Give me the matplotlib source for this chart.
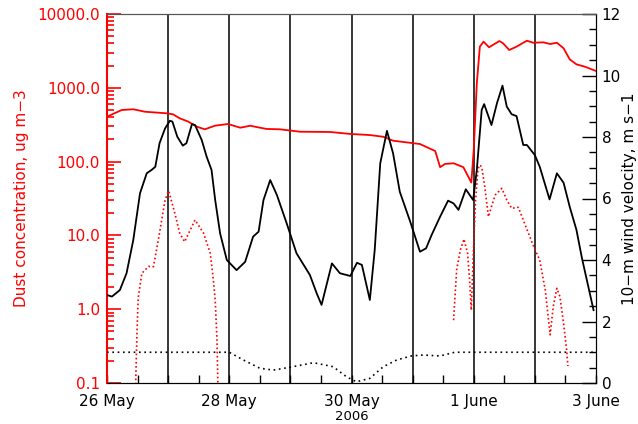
import numpy as np
import matplotlib
matplotlib.use("Agg")
import matplotlib.pyplot as plt
from matplotlib.ticker import FixedLocator, MultipleLocator, LogLocator, NullFormatter

# ---------------- data (time in days since 26 May 2006 00:00) ----------------
dust_t = [0.00, 0.24, 0.43, 0.62, 0.98, 1.08, 1.19, 1.33, 1.47, 1.60, 1.77, 1.98,
          2.18, 2.34, 2.61, 2.83, 3.16, 3.65, 3.98, 4.30, 4.52, 4.68, 5.12, 5.37,
          5.45, 5.53, 5.67, 5.83, 5.96, 6.00, 6.05, 6.10, 6.16, 6.25, 6.42, 6.48,
          6.58, 6.70, 6.87, 6.97, 7.14, 7.25, 7.36, 7.47, 7.57, 7.68, 7.82, 8.00]
dust_c = [406, 500, 512, 474, 451, 437, 386, 348, 297, 274, 307, 323,
          288, 306, 277, 274, 254, 252, 237, 229, 217, 192, 173, 139,
          84, 93, 95, 84, 52, 144, 1150, 3610, 4220, 3540, 4300, 4010,
          3250, 3610, 4350, 4080, 4130, 3920, 4080, 3430, 2430, 2080, 1930, 1690]

dust2_t = [0.46, 0.49, 0.51, 0.57, 0.68, 0.76, 0.84, 0.95, 1.01, 1.11, 1.19, 1.27,
           1.44, 1.58, 1.69, 1.74, 1.77, 1.80, 1.82,
           3.50,
           5.67, 5.69, 5.72, 5.78, 5.84, 5.90, 5.93, 5.96, 5.99, 6.03, 6.07, 6.10,
           6.13, 6.18, 6.24, 6.29, 6.35, 6.46, 6.54, 6.62, 6.73, 6.81, 6.97, 7.08,
           7.17, 7.25, 7.30, 7.36, 7.41, 7.47, 7.52, 7.54]
dust2_c = [0.05, 0.47, 1.41, 3.06, 3.8, 3.77, 8.7, 30.2, 40, 19.9, 10.7, 8.2,
           16.2, 10.7, 5.7, 2.5, 1.33, 0.38, 0.05,
           np.nan,
           0.71, 1.33, 3.4, 6.3, 8.9, 5.7, 2.6, 0.97, 5.0, 30, 80, 90,
           85, 45.7, 17.9, 24.5, 35.2, 43.4, 30.2, 23.3, 24, 16.2, 7.4, 4.6,
           1.82, 0.45, 1.08, 1.92, 1.48, 0.64, 0.28, 0.17]

wind_t = [0.00, 0.08, 0.21, 0.32, 0.43, 0.54, 0.65, 0.73, 0.79, 0.86, 0.95, 1.03,
          1.07, 1.15, 1.24, 1.30, 1.39, 1.44, 1.55, 1.63, 1.71, 1.77, 1.85, 1.96,
          2.12, 2.26, 2.39, 2.48, 2.56, 2.67, 2.78, 2.94, 3.10, 3.32, 3.43, 3.51,
          3.68, 3.81, 3.98, 4.09, 4.17, 4.30, 4.38, 4.47, 4.58, 4.68, 4.79, 4.96,
          5.12, 5.22, 5.31, 5.45, 5.58, 5.67, 5.75, 5.87, 5.99, 6.05, 6.13, 6.17,
          6.29, 6.38, 6.47, 6.54, 6.62, 6.70, 6.81, 6.87, 7.00, 7.08, 7.24, 7.36,
          7.47, 7.57, 7.68, 7.77, 7.85, 7.96]
wind_v = [2.86, 2.81, 3.02, 3.57, 4.65, 6.17, 6.82, 6.93, 7.03, 7.80, 8.28, 8.53,
          8.50, 8.01, 7.72, 7.80, 8.42, 8.39, 7.90, 7.36, 6.93, 5.95, 4.87, 4.00,
          3.67, 3.94, 4.76, 4.92, 5.95, 6.60, 6.11, 5.19, 4.22, 3.51, 2.92, 2.54,
          3.89, 3.57, 3.48, 3.91, 3.84, 2.70, 4.33, 7.14, 8.20, 7.47, 6.22, 5.25,
          4.27, 4.38, 4.81, 5.41, 5.93, 5.84, 5.63, 6.30, 5.95, 6.93, 8.88, 9.07,
          8.39, 9.10, 9.67, 8.99, 8.74, 8.68, 7.74, 7.74, 7.41, 7.03, 5.97, 6.82,
          6.51, 5.73, 4.98, 4.06, 3.35, 2.37]

thresh_t = [0.00, 2.00, 2.23, 2.50, 2.72, 2.99, 3.38, 3.70, 3.92, 4.08, 4.30,
            4.52, 4.74, 4.98, 5.17, 5.45, 5.69, 8.00]
thresh_v = [1.00, 1.00, 0.75, 0.48, 0.42, 0.51, 0.66, 0.53, 0.20, 0.04, 0.15,
            0.53, 0.75, 0.88, 0.91, 0.88, 1.00, 1.00]

day_lines = [1, 2, 3, 4, 5, 6, 7]
xtick_pos = [0, 2, 4, 6, 8]
xtick_labels = ["26 May", "28 May", "30 May", "1 June", "3 June"]
ytick_left = [0.1, 1, 10, 100, 1000, 10000]
ytick_left_labels = ["0.1", "1.0", "10.0", "100.0", "1000.0", "10000.0"]
ytick_right = [0, 2, 4, 6, 8, 10, 12]

# ---------------- figure ----------------
plt.rcParams['font.family'] = ['DejaVu Sans']
fig = plt.figure(figsize=(6.38, 4.24), dpi=100)
ax = fig.add_axes([107/638, 41/424, 489/638, 369/424])
ax2 = ax.twinx()

RED = '#ff0000'
ax.set_yscale('log')
ax.set_ylim(0.1, 10000)
ax.set_xlim(0, 8)

for d in day_lines:
    ax.axvline(d, color='black', lw=1.1, zorder=1)

ax.plot(dust_t, dust_c, color=RED, lw=1.3, zorder=3)
ax.plot(dust2_t, dust2_c, color=RED, lw=1.2, ls=(0, (1, 1.5)), zorder=3)

ax2.set_ylim(0, 12)
ax2.plot(wind_t, wind_v, color='black', lw=1.3, zorder=3)
ax2.plot(thresh_t, thresh_v, color='black', lw=1.2, ls=(0, (1, 2.2)), zorder=3)

# x axis
ax.set_xticks(xtick_pos)
ax.set_xticklabels(xtick_labels, fontsize=11)
ax.xaxis.set_minor_locator(MultipleLocator(0.5))
ax.tick_params(axis='x', which='both', direction='in', length=6, width=1,
               pad=8, top=False)

# left axis
ax.yaxis.set_major_locator(FixedLocator(ytick_left))
ax.set_yticklabels(ytick_left_labels)
ax.yaxis.set_minor_locator(LogLocator(base=10, subs=np.arange(2, 10)))
ax.yaxis.set_minor_formatter(NullFormatter())
ax.tick_params(axis='y', which='major', direction='in', length=10, width=1.2,
               colors=RED, labelsize=11, pad=5)
ax.tick_params(axis='y', which='minor', direction='in', length=5, width=1.2,
               colors=RED)
ax.set_ylabel("Dust concentration, ug m\u22123", color=RED, fontsize=11, labelpad=6)

# right axis
ax2.set_yticks(ytick_right)
ax2.yaxis.set_minor_locator(MultipleLocator(0.5))
ax2.tick_params(axis='y', which='major', direction='in', length=10, width=1,
                labelsize=11, pad=4)
ax2.tick_params(axis='y', which='minor', direction='in', length=5, width=1)
ax2.set_ylabel("10\u2212m wind velocity, m s\u22121", fontsize=11, labelpad=1)

ax.spines['left'].set_color(RED)
ax.spines['left'].set_linewidth(1.5)
ax2.spines['left'].set_visible(False)
for sp in ['top', 'right', 'bottom']:
    ax2.spines[sp].set_color('black')
    ax.spines[sp].set_color('black')
ax.spines['top'].set_color('#555555')
ax2.spines['top'].set_color('#555555')

fig.text(352/638, 0.5/424, "2006", ha='center', va='bottom', fontsize=9.5)

fig.savefig("out.png", dpi=100)
